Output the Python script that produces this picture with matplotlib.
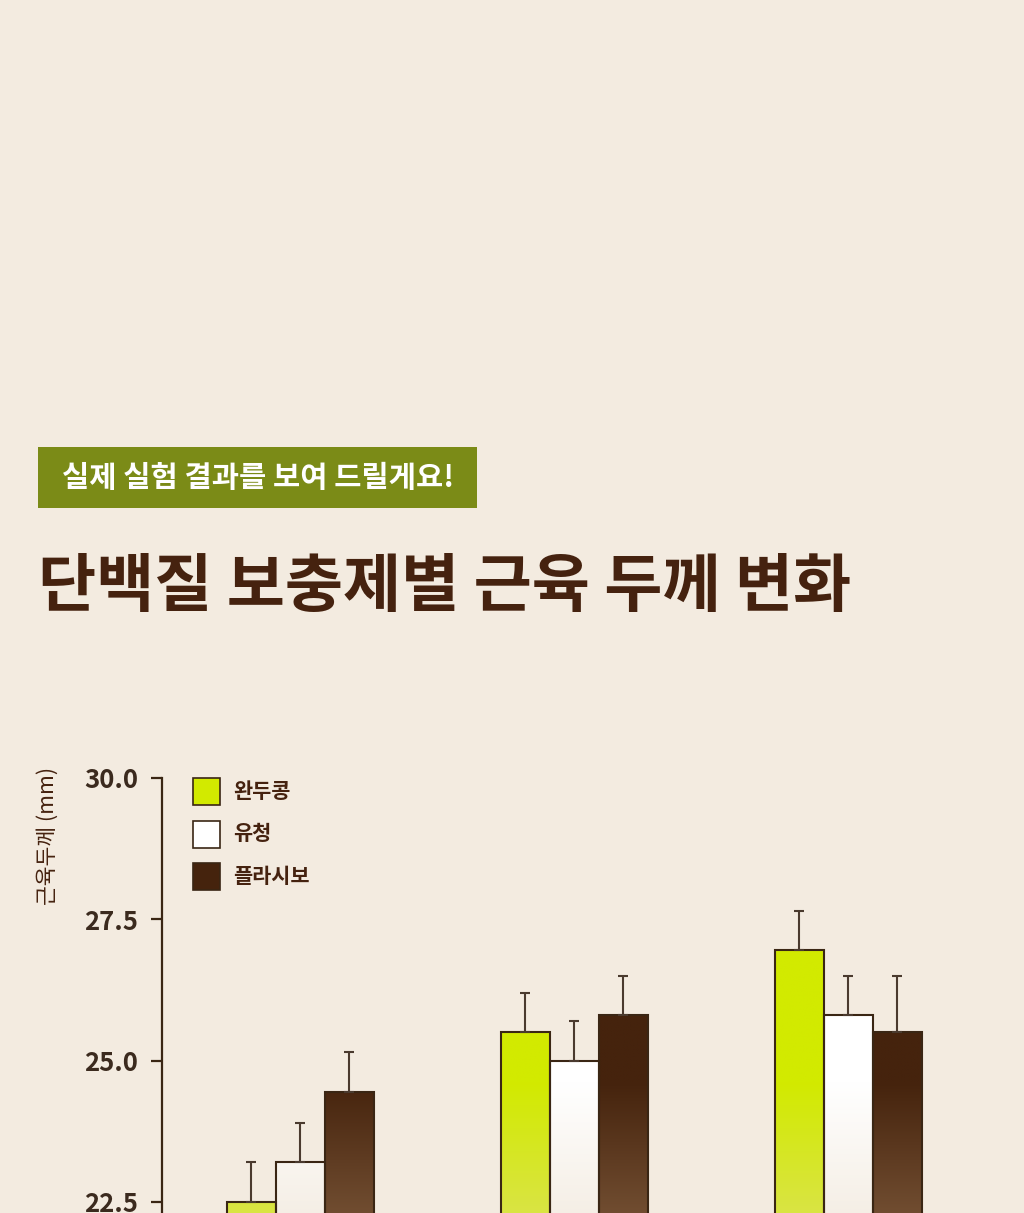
import numpy as np
import matplotlib
matplotlib.use("Agg")
import matplotlib.pyplot as plt
from matplotlib.patches import Rectangle
from matplotlib.colors import to_rgb

plt.rcParams['font.family'] = ['Noto Sans CJK KR', 'DejaVu Sans']

# ---- data ----
groups = ['1', '2', '3']
series = ['완두콩', '유청', '플라시보']
values = {
    '완두콩': [22.5, 25.5, 26.95],
    '유청': [23.2, 25.0, 25.8],
    '플라시보': [24.45, 25.8, 25.5],
}
errors = {
    '완두콩': [0.7, 0.7, 0.7],
    '유청': [0.7, 0.7, 0.7],
    '플라시보': [0.7, 0.7, 1.0],
}
yticks = [22.5, 25.0, 27.5, 30.0]
ylabel = '근육두께 (mm)'
title = '단백질 보충제별 근육 두께 변화'
banner = '실제 실험 결과를 보여 드릴게요!'

# ---- styles ----
BG = '#f3ebe0'
DARK = '#45220f'
TICKC = '#3b2a1e'
EDGE = '#3a2614'
top_colors = {'완두콩': '#d2ea00', '유청': '#ffffff', '플라시보': '#45230d'}
bot_colors = {'완두콩': '#dbe352', '유청': '#f3ebe0', '플라시보': '#7a5638'}

W, H = 1024, 1213
fig = plt.figure(figsize=(W / 100, H / 100), dpi=100, facecolor=BG)

def px(x, y):
    return x / W, 1 - y / H

# banner
bx0, by0 = px(38, 508)
bx1, by1 = px(477, 447)
fig.patches.append(Rectangle((bx0, by0), bx1 - bx0, by1 - by0, transform=fig.transFigure,
                             facecolor='#7b8b17', edgecolor='none'))
fig.text(*px(258, 478), banner, color='white', fontsize=21.3, fontweight='bold',
         ha='center', va='center')

# title
fig.text(*px(38, 588), title, color=DARK, fontsize=45.5, fontweight='bold',
         ha='left', va='center')

# axes: 30 -> y=778px, 22.5 -> y=1202px
y30 = 778
per = (1202 - 778) / 7.5
y20 = y30 + per * 10
ax_left = 162 / W
ax_right = 985 / W
ax_top = 1 - y30 / H
ax_bot = 1 - y20 / H
ax = fig.add_axes([ax_left, ax_bot, ax_right - ax_left, ax_top - ax_bot])
ax.set_facecolor('none')
spacing = 274
xl = (162 - 300) / spacing

ax.spines[['top', 'right', 'bottom']].set_visible(False)
ax.spines['left'].set_color(EDGE)
ax.spines['left'].set_linewidth(1.6)
ax.set_yticks(yticks)
ax.set_yticklabels([f'{v:.1f}' for v in yticks])
ax.tick_params(axis='y', length=8, width=1.6, color=EDGE, pad=9,
               labelsize=18.5, labelcolor=TICKC)
for lbl in ax.get_yticklabels():
    lbl.set_fontweight('bold')
ax.set_xticks([])

x = np.arange(len(groups))
bw = 49 / spacing
ygrid = np.linspace(20, 30, 400)
t = np.clip((24.6 - ygrid) / (24.6 - 21.8), 0, 1)

for i, s in enumerate(series):
    xs = x + (i - 1) * bw
    bars = ax.bar(xs, np.array(values[s]) - 20, bottom=20, width=bw,
                  facecolor='none', edgecolor=EDGE, linewidth=1.5, zorder=3)
    c0 = np.array(to_rgb(top_colors[s]))
    c1 = np.array(to_rgb(bot_colors[s]))
    grad = (c0[None, :] * (1 - t[:, None]) + c1[None, :] * t[:, None])[:, None, :]
    for b in bars:
        bx = b.get_x()
        im = ax.imshow(grad, extent=[bx, bx + bw, 20, 30], origin='lower',
                       aspect='auto', zorder=2, interpolation='bilinear')
        im.set_clip_path(b)
    ax.errorbar(xs, values[s], yerr=[np.zeros(len(groups)), errors[s]], fmt='none',
                ecolor='#4a3a2e', elinewidth=1.5, capsize=3.8, capthick=1.5, zorder=4)
ax.set_xlim(xl, xl + (985 - 162) / spacing)
ax.set_ylim(20, 30)

# legend (manual, in pixel layout)
for k, s in enumerate(series):
    ytop = 778 + k * 42.5
    sx0, sy0 = px(193, ytop + 27)
    sx1, sy1 = px(220, ytop)
    fig.patches.append(Rectangle((sx0, sy0), sx1 - sx0, sy1 - sy0, transform=fig.transFigure,
                                 facecolor=top_colors[s], edgecolor=EDGE, linewidth=1.2))
    fig.text(*px(233, ytop + 13.5), s, color=DARK, fontsize=15, fontweight='bold',
             ha='left', va='center')

# y label
fig.text(*px(48, 836), ylabel, rotation=90, color=DARK, fontsize=15.5,
         ha='center', va='center')

fig.savefig('out.png', dpi=100, facecolor=BG)
